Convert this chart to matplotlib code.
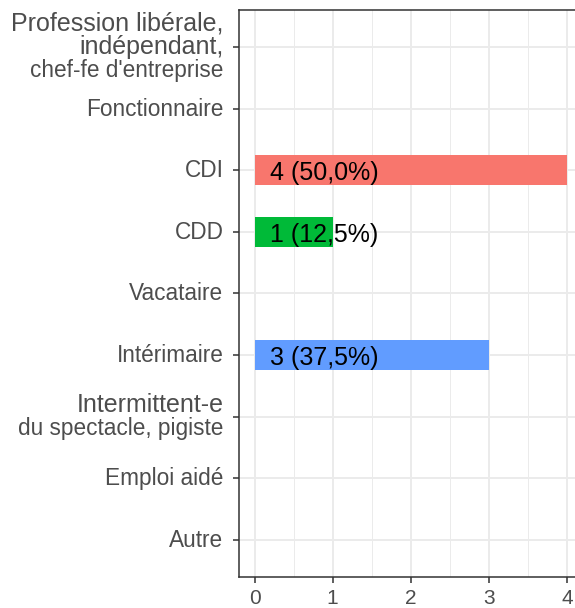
import matplotlib.pyplot as plt
import numpy as np

plt.rcParams['font.family'] = ['Liberation Sans', 'DejaVu Sans']

categories = ["Profession libérale,\nindépendant,\nchef-fe d'entreprise",
              "Fonctionnaire", "CDI", "CDD", "Vacataire", "Intérimaire",
              "Intermittent-e\ndu spectacle, pigiste", "Emploi aidé", "Autre"]
counts = [0, 0, 4, 1, 0, 3, 0, 0, 0]
colors = {"CDI": "#F8766D", "CDD": "#00BA38", "Intérimaire": "#619CFF"}

total = sum(counts)
n = len(categories)
ypos = np.arange(n)[::-1]  # first category at top

fig = plt.figure(figsize=(5.75, 6.08), dpi=100)
ax = fig.add_axes([239/575, 1 - 577/608, (582.5 - 239)/575, (577 - 10)/608])

# grid (ggplot-like)
for v in np.arange(0, 4.01, 1):
    ax.axvline(v, color='#EBEBEB', lw=1.4, zorder=0)
for v in np.arange(0.5, 4.01, 1):
    ax.axvline(v, color='#EBEBEB', lw=0.7, zorder=0)
for y in ypos:
    ax.axhline(y, color='#EBEBEB', lw=1.4, zorder=0)

for cat, c, y in zip(categories, counts, ypos):
    if c > 0:
        ax.barh(y, c, height=0.49, color=colors[cat], zorder=2)
        pct = f"{c / total * 100:.1f}".replace('.', ',')
        ax.annotate(f"{c} ({pct}%)", xy=(0.2, y), xytext=(0, -10),
                    textcoords='offset pixels', ha='left', va='baseline',
                    fontsize=18, color='black', zorder=3)

ax.set_xlim(-0.2, 4.2)
ax.set_ylim(-0.6, n - 1 + 0.6)
ax.set_xticks([0, 1, 2, 3, 4])
ax.set_yticks(ypos)
ax.set_yticklabels([''] * n)
ax.tick_params(axis='x', labelsize=15, labelcolor='#4D4D4D', pad=4)
ax.tick_params(length=4.3, width=1.1, color='#333333')
for s in ax.spines.values():
    s.set_color('#333333')
    s.set_linewidth(1.1)

# y labels, drawn line by line (last line a bit smaller, as in the original)
ytr = ax.get_yaxis_transform()
for lab, y in zip(categories, ypos):
    lines = lab.split('\n')
    k = len(lines)
    for i, line in enumerate(lines):
        dy = (i - (k - 1) / 2) * 23 + 7
        ax.annotate(line, xy=(0, y), xycoords=ytr, xytext=(-15.5, -dy),
                    textcoords='offset pixels', ha='right', va='baseline',
                    fontsize=16.3 if i == k - 1 else 18, color='#4D4D4D',
                    annotation_clip=False)

fig.savefig('out.png', dpi=100)
